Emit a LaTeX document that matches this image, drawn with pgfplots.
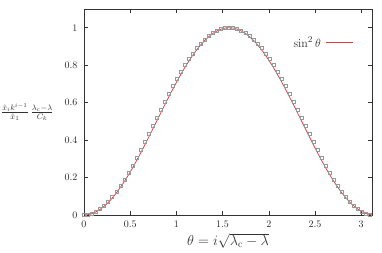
\documentclass[border=0pt]{standalone}
\usepackage{pgfplots}
\pgfplotsset{compat=1.18}
\begin{document}
\begin{tikzpicture}
\begin{axis}[
  scale only axis,
  width=288pt, height=206pt,
  xmin=0, xmax=3.117, ymin=0, ymax=1.1,
  xtick={0,0.5,1,1.5,2,2.5,3},
  ytick={0,0.2,0.4,0.6,0.8,1},
  xticklabels={0,0.5,1,1.5,2,2.5,3},
  yticklabels={0,0.2,0.4,0.6,0.8,1},
  tick align=inside,
  major tick length=4pt,
  tick style={black!80, line width=0.5pt},
  axis line style={black!80, line width=0.7pt},
  ticklabel style={font=\fontsize{10}{12}\selectfont, text=black!85},
  xticklabel style={yshift=-2.5pt},
  yticklabel style={xshift=-3pt},
  every axis x label/.style={at={(axis description cs:0.5,0)}, anchor=center, yshift=-26pt, inner sep=0.5pt},
  xlabel={$\theta = i\sqrt{\lambda_{\mathrm{c}}-\lambda}$},
  xlabel style={font=\fontsize{14}{16}\selectfont, text=black!80},
  every axis y label/.style={at={(axis description cs:0,0.5)}, anchor=east, xshift=-27pt},
  ylabel={$\frac{\hat{x}_i k^{i-1}}{\hat{x}_1}\,\frac{\lambda_{\mathrm{c}}-\lambda}{C_k}$},
  ylabel style={font=\fontsize{11.5}{13}\selectfont, text=black!80},
  legend plot pos=right,
  legend image code/.code={\draw[#1] (0pt,0pt) -- (27pt,0pt);},
  legend style={draw=none, fill=none, inner sep=0pt, at={(0.937,0.836)}, anchor=east,
    font=\fontsize{12.5}{14}\selectfont, text=black!80, column sep=3pt},
  legend cell align=right,
]
\addplot[only marks, mark=square, mark size=1.5pt, mark options={draw=black!40, line width=0.5pt}, forget plot] coordinates {
(0.00000,0.00000) (0.04363,0.00205) (0.08727,0.00820) (0.13090,0.01838) (0.17453,0.03249)
(0.21817,0.05042) (0.26180,0.07199) (0.30543,0.09700) (0.34907,0.12524) (0.39270,0.15645)
(0.43633,0.19035) (0.47997,0.22663) (0.52360,0.26500) (0.56723,0.30512) (0.61087,0.34665)
(0.65450,0.38925) (0.69813,0.43258) (0.74176,0.47627) (0.78540,0.52000) (0.82903,0.56343)
(0.87266,0.60622) (0.91630,0.64807) (0.95993,0.68867) (1.00356,0.72774) (1.04720,0.76500)
(1.09083,0.80021) (1.13446,0.83313) (1.17810,0.86355) (1.22173,0.89128) (1.26536,0.91616)
(1.30900,0.93801) (1.35263,0.95672) (1.39626,0.97219) (1.43990,0.98430) (1.48353,0.99300)
(1.52716,0.99825) (1.57080,1.00000) (1.61443,0.99825) (1.65806,0.99300) (1.70170,0.98430)
(1.74533,0.97219) (1.78896,0.95672) (1.83260,0.93801) (1.87623,0.91616) (1.91986,0.89128)
(1.96350,0.86355) (2.00713,0.83313) (2.05076,0.80021) (2.09440,0.76500) (2.13803,0.72774)
(2.18166,0.68867) (2.22529,0.64807) (2.26893,0.60622) (2.31256,0.56343) (2.35619,0.52000)
(2.39983,0.47627) (2.44346,0.43258) (2.48709,0.38925) (2.53073,0.34665) (2.57436,0.30512)
(2.61799,0.26500) (2.66163,0.22663) (2.70526,0.19035) (2.74889,0.15645) (2.79253,0.12524)
(2.83616,0.09700) (2.87979,0.07199) (2.92343,0.05042) (2.96706,0.03249) (3.01069,0.01838)
(3.05433,0.00820) (3.09796,0.00205)
};
\addplot[color={rgb,255:red,235;green,55;blue,55}, line width=0.75pt, smooth] coordinates {
(0.00000,0.00000) (0.04363,0.00190) (0.08727,0.00760) (0.13090,0.01704) (0.17453,0.03015)
(0.21817,0.04685) (0.26180,0.06699) (0.30543,0.09042) (0.34907,0.11698) (0.39270,0.14645)
(0.43633,0.17861) (0.47997,0.21321) (0.52360,0.25000) (0.56723,0.28869) (0.61087,0.32899)
(0.65450,0.37059) (0.69813,0.41318) (0.74176,0.45642) (0.78540,0.50000) (0.82903,0.54358)
(0.87266,0.58682) (0.91630,0.62941) (0.95993,0.67101) (1.00356,0.71131) (1.04720,0.75000)
(1.09083,0.78679) (1.13446,0.82139) (1.17810,0.85355) (1.22173,0.88302) (1.26536,0.90958)
(1.30900,0.93301) (1.35263,0.95315) (1.39626,0.96985) (1.43990,0.98296) (1.48353,0.99240)
(1.52716,0.99810) (1.57080,1.00000) (1.61443,0.99810) (1.65806,0.99240) (1.70170,0.98296)
(1.74533,0.96985) (1.78896,0.95315) (1.83260,0.93301) (1.87623,0.90958) (1.91986,0.88302)
(1.96350,0.85355) (2.00713,0.82139) (2.05076,0.78679) (2.09440,0.75000) (2.13803,0.71131)
(2.18166,0.67101) (2.22529,0.62941) (2.26893,0.58682) (2.31256,0.54358) (2.35619,0.50000)
(2.39983,0.45642) (2.44346,0.41318) (2.48709,0.37059) (2.53073,0.32899) (2.57436,0.28869)
(2.61799,0.25000) (2.66163,0.21321) (2.70526,0.17861) (2.74889,0.14645) (2.79253,0.11698)
(2.83616,0.09042) (2.87979,0.06699) (2.92343,0.04685) (2.96706,0.03015) (3.01069,0.01704)
(3.05433,0.00760) (3.09796,0.00190) (3.14159,0.00000)
};
\addlegendentry{$\sin^2\theta$}
\end{axis}
\pgfresetboundingbox
\path (current axis.south west) ++(-84pt,-38pt) coordinate (bbA);
\path (current axis.north east) ++(10pt,9pt) coordinate (bbB);
\useasboundingbox (bbA) rectangle (bbB);
\end{tikzpicture}
\end{document}
